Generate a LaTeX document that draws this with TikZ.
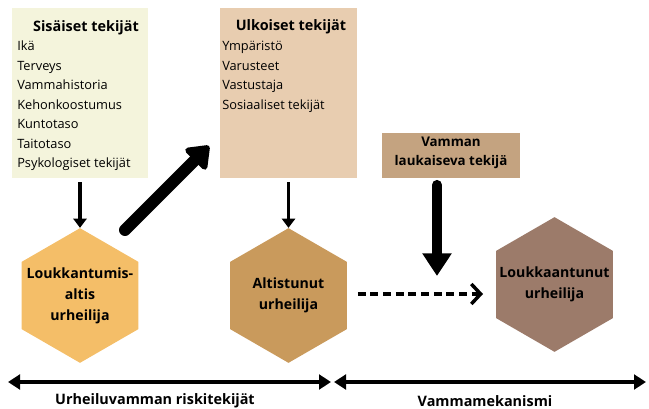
\documentclass[tikz,border=0pt]{standalone}
\usepackage{fontspec}
\setmainfont{Open Sans}
\usepackage{tikz}
\usetikzlibrary{arrows.meta,shapes.geometric}

\definecolor{sisfill}{HTML}{F4F4DC}
\definecolor{ulkfill}{HTML}{E8CDB0}
\definecolor{laukfill}{HTML}{C4A380}
\definecolor{altisfill}{HTML}{F4BE68}
\definecolor{altistfill}{HTML}{C99A5C}
\definecolor{loukfill}{HTML}{9C7B6A}

\begin{document}
\begin{tikzpicture}[
        x=0.75pt, y=-0.75pt,
        factor/.style={rectangle, draw=none, inner sep=0pt},
        title/.style={font=\fontsize{10.8}{14.6}\selectfont\bfseries, inner sep=0pt, align=center},
        items/.style={font=\fontsize{9.6}{14.6}\selectfont, inner sep=0pt, align=left, anchor=north west},
        hexa/.style={regular polygon, regular polygon sides=6, shape border rotate=30, draw=none, inner sep=0pt, minimum size=101pt},
        hextext/.style={font=\fontsize{10.6}{15.7}\selectfont\bfseries, align=center, inner sep=0pt},
        thin/.style={-{Triangle[width=10pt,length=7pt]}, line width=2.8pt},
        axis/.style={{Triangle[width=11pt,length=9pt]}-{Triangle[width=11pt,length=9pt]}, line width=3.2pt}
    ]
        \useasboundingbox (0,0) rectangle (649,409);

        % Factor boxes
        \node[factor, fill=sisfill, minimum width=102pt, minimum height=127.5pt] (sis) at (80,93) {};
        \node[title] (sistitle) at (86,28) {Sisäiset tekijät};
        \node[items] (sislist) at (17,41) {Ikä\\Terveys\\Vammahistoria\\Kehonkoostumus\\Kuntotaso\\Taitotaso\\Psykologiset tekijät};

        \node[factor, fill=ulkfill, minimum width=102.75pt, minimum height=127.5pt] (ulk) at (288.5,93) {};
        \node[title] (ulktitle) at (291,27) {Ulkoiset tekijät};
        \node[items] (ulklist) at (222,41) {Ympäristö\\Varusteet\\Vastustaja\\Sosiaaliset tekijät};

        \node[factor, fill=laukfill, minimum width=103.5pt, minimum height=33.75pt] (lauk) at (451,155.5) {};
        \node[title, font=\fontsize{10}{14.4}\selectfont\bfseries] (lauktitle) at (451,153) {Vamman\\laukaiseva tekijä};

        % Athletes
        \node[hexa, fill=altisfill, label={[hextext]center:Loukkantumis-\\altis\\urheilija}] (altis) at (80,295.5) {};
        \node[hexa, fill=altistfill, label={[hextext]center:Altistunut\\urheilija}] (altist) at (288.5,295.5) {};
        \node[hexa, fill=loukfill, label={[hextext]center:Loukkaantunut\\urheilija}] (louk) at (554.5,284.5) {};

        % Edges
        \draw[thin] (sis.south) ++(0,4) coordinate (sisout) -- (altis.north);
        \draw[thin] (ulk.south) ++(0,4) coordinate (ulkout) -- (altist.north);
        \coordinate (diagstart) at (125,230);
        \coordinate (diagend) at (209,146);
        \draw[-{Triangle[width=25pt,length=17pt,round]}, line width=9pt, line cap=round] (diagstart) -- (diagend);
        \coordinate (laukend) at (437,276);
        \draw[-{Triangle[width=21pt,length=17pt]}, line width=7.5pt, line cap=round] ([xshift=-10.5pt,yshift=-5pt]lauk.south) -- (laukend);
        \coordinate (dashend) at (483,294);
        \draw[-{Straight Barb[width=15pt,length=7pt]}, line width=2.6pt, dash pattern=on 6pt off 3.5pt] ([xshift=8pt]altist.east |- dashend) -- (dashend);

        % Timeline
        \coordinate (riskl) at (8,382);
        \coordinate (riskr) at (331,382);
        \coordinate (mekl) at (334,382);
        \coordinate (mekr) at (646,382);
        \draw[axis] (riskl) -- (riskr);
        \draw[axis] (mekl) -- (mekr);
        \node[title] (risk) at (155,401) {Urheiluvamman riskitekijät};
        \node[title] (mek) at (485,401) {Vammamekanismi};

    \end{tikzpicture}
\end{document}
